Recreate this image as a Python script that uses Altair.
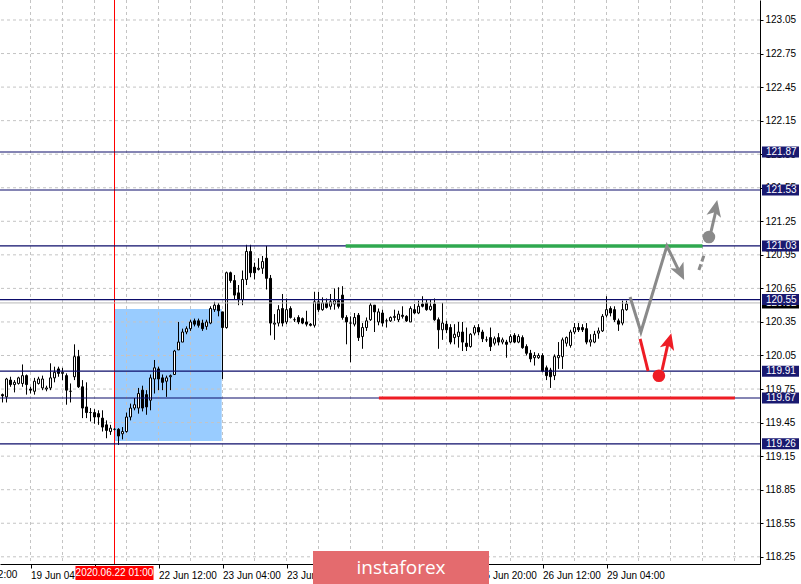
import altair as alt
import pandas as pd

# ---------------- hourly candles (bar index 0 = first bar on screen) ----------------
opens = [
    119.70, 119.68, 119.83, 119.79, 119.80, 119.80, 119.87, 119.75, 119.73, 119.80,
    119.76, 119.75, 119.76, 119.85, 119.93, 119.89, 119.87, 119.73, 119.86, 120.04,
    119.77, 119.59, 119.54, 119.54, 119.53, 119.49, 119.43, 119.37, 119.39, 119.39,
    119.35, 119.37, 119.50, 119.58, 119.58, 119.74, 119.70, 119.65, 119.84, 119.93,
    119.85, 119.82, 119.86, 119.88, 120.10, 120.17, 120.26, 120.29, 120.36, 120.36,
    120.34, 120.31, 120.34, 120.46, 120.50, 120.44, 120.30, 120.79, 120.72, 120.61,
    120.55, 120.73, 120.98, 120.84, 120.82, 120.83, 120.92, 120.74, 120.33, 120.34,
    120.47, 120.35, 120.47, 120.37, 120.39, 120.38, 120.35, 120.33, 120.32, 120.53,
    120.46, 120.52, 120.49, 120.51, 120.54, 120.59, 120.39, 120.34, 120.33, 120.41,
    120.22, 120.30, 120.37, 120.50, 120.35, 120.43, 120.36, 120.36, 120.39, 120.37,
    120.41, 120.40, 120.35, 120.46, 120.43, 120.51, 120.52, 120.46, 120.51, 120.37,
    120.28, 120.33, 120.30, 120.21, 120.22, 120.26, 120.16, 120.13, 120.25, 120.30,
    120.26, 120.19, 120.21, 120.16, 120.21, 120.17, 120.17, 120.17, 120.23, 120.17,
    120.21, 120.13, 120.07, 120.03, 120.03, 120.05, 119.94, 119.92, 119.87, 120.03,
    120.04, 120.16, 120.14, 120.26, 120.30, 120.30, 120.29, 120.17, 120.17, 120.25,
    120.27, 120.41, 120.47, 120.46, 120.36, 120.34, 120.46,
]
highs = [
    119.71, 119.85, 119.86, 119.83, 119.86, 119.97, 119.88, 119.77, 119.85, 119.86,
    119.87, 119.78, 119.98, 119.95, 119.95, 119.94, 119.89, 119.80, 120.15, 120.10,
    119.83, 119.81, 119.58, 119.57, 119.56, 119.56, 119.47, 119.43, 119.40, 119.40,
    119.41, 119.54, 119.62, 119.67, 119.76, 119.78, 119.74, 119.88, 120.01, 119.95,
    119.88, 119.87, 119.88, 120.10, 120.35, 120.29, 120.31, 120.37, 120.38, 120.38,
    120.37, 120.37, 120.49, 120.53, 120.52, 120.44, 120.80, 120.80, 120.77, 120.68,
    120.81, 121.04, 121.04, 120.88, 120.92, 120.94, 121.03, 120.77, 120.42, 120.50,
    120.60, 120.56, 120.49, 120.39, 120.41, 120.39, 120.45, 120.34, 120.62, 120.62,
    120.57, 120.56, 120.60, 120.65, 120.66, 120.67, 120.41, 120.40, 120.43, 120.43,
    120.34, 120.39, 120.52, 120.50, 120.47, 120.46, 120.38, 120.40, 120.46, 120.45,
    120.49, 120.41, 120.49, 120.51, 120.54, 120.58, 120.55, 120.55, 120.56, 120.39,
    120.52, 120.36, 120.33, 120.33, 120.35, 120.35, 120.30, 120.25, 120.32, 120.33,
    120.28, 120.22, 120.30, 120.22, 120.25, 120.21, 120.19, 120.24, 120.25, 120.24,
    120.23, 120.15, 120.10, 120.08, 120.07, 120.07, 119.96, 119.94, 120.06, 120.17,
    120.21, 120.22, 120.28, 120.34, 120.34, 120.33, 120.34, 120.24, 120.27, 120.30,
    120.42, 120.58, 120.49, 120.49, 120.38, 120.54, 120.54,
]
lows = [
    119.63, 119.63, 119.77, 119.72, 119.79, 119.77, 119.70, 119.71, 119.70, 119.79,
    119.74, 119.73, 119.74, 119.81, 119.86, 119.83, 119.61, 119.63, 119.83, 119.76,
    119.49, 119.49, 119.46, 119.44, 119.43, 119.37, 119.31, 119.34, 119.38, 119.25,
    119.30, 119.36, 119.47, 119.56, 119.53, 119.55, 119.52, 119.56, 119.71, 119.74,
    119.74, 119.68, 119.74, 119.88, 120.10, 120.17, 120.24, 120.27, 120.31, 120.30,
    120.27, 120.28, 120.33, 120.44, 120.40, 119.84, 120.29, 120.70, 120.55, 120.50,
    120.50, 120.68, 120.75, 120.73, 120.81, 120.78, 120.64, 120.23, 120.19, 120.31,
    120.31, 120.33, 120.38, 120.35, 120.33, 120.33, 120.31, 120.31, 120.30, 120.44,
    120.45, 120.47, 120.46, 120.46, 120.47, 120.37, 120.15, 119.99, 120.31, 120.18,
    120.11, 120.27, 120.36, 120.26, 120.32, 120.31, 120.30, 120.35, 120.36, 120.35,
    120.38, 120.35, 120.35, 120.42, 120.42, 120.48, 120.45, 120.45, 120.36, 120.11,
    120.19, 120.25, 120.15, 120.15, 120.12, 120.09, 120.09, 120.12, 120.23, 120.23,
    120.17, 120.17, 120.09, 120.14, 120.14, 120.15, 120.03, 120.16, 120.16, 120.16,
    120.11, 120.05, 119.99, 119.96, 120.02, 119.90, 119.83, 119.76, 119.83, 119.93,
    119.93, 120.13, 120.12, 120.24, 120.26, 120.26, 120.15, 120.13, 120.16, 120.20,
    120.26, 120.39, 120.40, 120.35, 120.27, 120.32, 120.45,
]
closes = [
    119.69, 119.84, 119.79, 119.81, 119.85, 119.87, 119.79, 119.74, 119.82, 119.84,
    119.84, 119.76, 119.85, 119.90, 119.89, 119.90, 119.74, 119.73, 120.04, 119.77,
    119.58, 119.54, 119.54, 119.50, 119.50, 119.41, 119.38, 119.40, 119.39, 119.33,
    119.37, 119.50, 119.58, 119.61, 119.71, 119.58, 119.59, 119.85, 119.94, 119.84,
    119.81, 119.85, 119.87, 120.09, 120.17, 120.26, 120.29, 120.35, 120.33, 120.32,
    120.29, 120.35, 120.47, 120.50, 120.45, 120.30, 120.79, 120.72, 120.59, 120.55,
    120.73, 120.98, 120.79, 120.79, 120.83, 120.89, 120.74, 120.34, 120.34, 120.46,
    120.34, 120.46, 120.39, 120.37, 120.35, 120.34, 120.33, 120.32, 120.53, 120.46,
    120.52, 120.48, 120.53, 120.54, 120.49, 120.39, 120.35, 120.34, 120.39, 120.21,
    120.30, 120.36, 120.50, 120.44, 120.44, 120.34, 120.36, 120.39, 120.40, 120.42,
    120.40, 120.36, 120.47, 120.43, 120.49, 120.49, 120.46, 120.49, 120.37, 120.28,
    120.34, 120.28, 120.17, 120.24, 120.26, 120.17, 120.13, 120.24, 120.30, 120.26,
    120.20, 120.19, 120.13, 120.20, 120.17, 120.19, 120.15, 120.22, 120.17, 120.22,
    120.12, 120.07, 120.02, 120.05, 120.05, 119.91, 119.87, 119.86, 120.04, 120.05,
    120.19, 120.21, 120.26, 120.30, 120.28, 120.28, 120.17, 120.19, 120.24, 120.27,
    120.40, 120.46, 120.43, 120.37, 120.33, 120.46, 120.51,
]

# ---------------- axes ----------------
time_tick_bars = [7, 23, 39, 55, 71, 87, 103, 119, 135, 151]
time_tick_texts = ["19 Jun 04:00", "19 Jun 20:00", "22 Jun 12:00", "23 Jun 04:00",
                   "23 Jun 20:00", "24 Jun 12:00", "25 Jun 04:00", "25 Jun 20:00",
                   "26 Jun 12:00", "29 Jun 04:00"]
early_tick_bar = -9
early_tick_text = "18 Jun 12:00"
price_ticks = [118.25, 118.55, 118.85, 119.15, 119.45, 119.75, 120.05, 120.35,
               120.65, 120.95, 121.25, 121.55, 121.85, 122.15, 122.45, 122.75, 123.05]
grid_bars = [7, 15, 23, 31, 39, 47, 55, 63, 71, 79, 87, 95, 103, 111, 119, 127,
             135, 143, 151, 159, 167, 175, 183]

# ---------------- drawn objects ----------------
level_prices = [121.87, 121.53, 121.03, 120.55, 119.91, 119.67, 119.26]
bid_price = 120.52
marker_bar = 28
marker_text = "2020.06.22 01:00"
zone_bars = [28.1, 54.8]
zone_prices = [119.286, 120.466]
green_bars = [85.8, 175.0]
green_price = 121.03
red_bars = [94.1, 183.1]
red_price = 119.67

gray_path_bars = [156.9, 159.6, 166.1, 168.9]
gray_path_prices = [120.573, 120.260, 121.029, 120.823]
gray_dash_bars = [174.1, 175.4]
gray_dash_prices = [120.815, 120.949]
gray_dot_bar, gray_dot_price = 176.6, 121.110
gray_up_bars = [177.1, 178.4]
gray_up_prices = [121.154, 121.351]
red_path_bars = [159.4, 161.4]
red_path_prices = [120.198, 119.911]
red_dot_bar, red_dot_price = 164.1, 119.869
red_up_bars = [164.9, 166.4]
red_up_prices = [119.920, 120.162]
head_bars = [169.4, 178.2, 166.6]
head_prices = [120.800, 121.360, 120.170]
head_angles = [154, 12, 15]
head_colors = ["#8a8a8a", "#8a8a8a", "#ee1c25"]

# ---------------- styling ----------------
FONT = "Liberation Sans"
NAVY = "#0c0c6a"
GRAY = "#8a8a8a"
RED = "#ee1c25"
GRID = "#c4c4c4"
W, H = 760, 564
PX_PER_PRICE = 111.833
BOX_HALF = 5.5 / PX_PER_PRICE

xs = alt.Scale(domain=[-0.625, 189.375], nice=False, zero=False)
ys = alt.Scale(domain=[118.1856, 123.2288], nice=False, zero=False)

label_expr = "[{}][indexof([{}], datum.value)]".format(
    ",".join("'%s'" % t for t in time_tick_texts),
    ",".join(str(b) for b in time_tick_bars))

x_axis = alt.Axis(values=time_tick_bars, labelExpr=label_expr, orient="bottom",
                  grid=False, domainColor="black", tickColor="black", tickSize=4,
                  labelAlign="left", labelBaseline="top", labelPadding=2,
                  labelFlush=False, labelOverlap=False, labelFont=FONT,
                  labelFontSize=10, labelColor="black", title=None)
y_axis = alt.Axis(values=price_ticks, format=".2f", orient="right", grid=False,
                  domainColor="black", tickColor="black", tickSize=3,
                  labelPadding=2, labelFlush=False, labelOverlap=False,
                  labelFont=FONT, labelFontSize=10, labelColor="black", title=None)


def X(field):
    return alt.X(field, type="quantitative", scale=xs, axis=x_axis)


def Y(field):
    return alt.Y(field, type="quantitative", scale=ys, axis=y_axis)


candles = pd.DataFrame({"i": range(len(opens)), "o": opens, "h": highs,
                        "l": lows, "c": closes})
candles["xl"] = candles["i"] - 0.25
candles["xr"] = candles["i"] + 0.25
candles["fill"] = ["#ffffff" if c >= o else "#000000" for o, c in zip(opens, closes)]

# highlighted rally zone
zone = alt.Chart(pd.DataFrame({"x1": [zone_bars[0]], "x2": [zone_bars[1]],
                               "y1": [zone_prices[0]], "y2": [zone_prices[1]]})
                 ).mark_rect(color="#99ccff").encode(
    x=X("x1"), x2="x2", y=Y("y1"), y2="y2")

# dashed grid
hgrid = alt.Chart(pd.DataFrame({"p": price_ticks})).mark_rule(
    color=GRID, strokeDash=[3, 3], strokeWidth=1).encode(y=Y("p"))
vgrid = alt.Chart(pd.DataFrame({"b": grid_bars})).mark_rule(
    color=GRID, strokeDash=[3, 3], strokeWidth=1).encode(x=X("b"))

# vertical time marker
vmark = alt.Chart(pd.DataFrame({"b": [marker_bar]})).mark_rule(
    color="#ff0000", strokeWidth=1).encode(x=X("b"))

# candles
wicks = alt.Chart(candles).mark_rule(color="black", strokeWidth=1).encode(
    x=X("i"), y=Y("l"), y2="h")
bodies = alt.Chart(candles).mark_rect(stroke="black", strokeWidth=1).encode(
    x=X("xl"), x2="xr", y=Y("o"), y2="c",
    fill=alt.Fill("fill:N", scale=None))

# horizontal levels
levels = alt.Chart(pd.DataFrame({"p": level_prices})).mark_rule(
    color=NAVY, strokeWidth=1.1).encode(y=Y("p"))
bid = alt.Chart(pd.DataFrame({"p": [bid_price]})).mark_rule(
    color="#b8b8b8", strokeWidth=1).encode(y=Y("p"))

green = alt.Chart(pd.DataFrame({"x1": [green_bars[0]], "x2": [green_bars[1]],
                                "p": [green_price]})).mark_rule(
    color="#2fa84f", strokeWidth=3.5).encode(x=X("x1"), x2="x2", y=Y("p"))
redline = alt.Chart(pd.DataFrame({"x1": [red_bars[0]], "x2": [red_bars[1]],
                                  "p": [red_price]})).mark_rule(
    color=RED, strokeWidth=3).encode(x=X("x1"), x2="x2", y=Y("p"))


def path(bars, prices, color, dash=None):
    df = pd.DataFrame({"b": bars, "p": prices, "k": range(len(bars))})
    kw = dict(color=color, strokeWidth=3)
    if dash:
        kw["strokeDash"] = dash
    return alt.Chart(df).mark_line(**kw).encode(
        x=X("b"), y=Y("p"), order="k:Q")


gray_path = path(gray_path_bars, gray_path_prices, GRAY)
gray_dash = path(gray_dash_bars, gray_dash_prices, GRAY, [6, 3])
gray_up = path(gray_up_bars, gray_up_prices, GRAY)
red_path = path(red_path_bars, red_path_prices, RED)
red_up = path(red_up_bars, red_up_prices, RED)

dots = alt.Chart(pd.DataFrame({"b": [gray_dot_bar, red_dot_bar],
                               "p": [gray_dot_price, red_dot_price],
                               "col": [GRAY, RED]})).mark_circle(
    size=160, opacity=1).encode(x=X("b"), y=Y("p"),
                                color=alt.Color("col:N", scale=None))

ARROW = "M0,-1L0.8,0.8L0,0.35L-0.8,0.8Z"
heads = alt.Chart(pd.DataFrame({"b": head_bars, "p": head_prices,
                                "a": head_angles, "col": head_colors})).mark_point(
    shape=ARROW, filled=True, size=340, opacity=1, strokeWidth=0).encode(
    x=X("b"), y=Y("p"), angle=alt.Angle("a:Q", scale=None),
    color=alt.Color("col:N", scale=None))

# price tags on the right axis
tags = pd.DataFrame({"p": level_prices})
tags["lo"] = tags["p"] - BOX_HALF
tags["hi"] = tags["p"] + BOX_HALF
tags["t"] = ["%.2f" % v for v in level_prices]
bid_tag = pd.DataFrame({"p": [bid_price], "lo": [bid_price - BOX_HALF],
                        "hi": [bid_price + BOX_HALF], "t": ["%.2f" % bid_price]})

bid_box = alt.Chart(bid_tag).mark_rect(color="black").encode(
    x=alt.value(762), x2=alt.value(799), y=Y("lo"), y2="hi")
bid_txt = alt.Chart(bid_tag).mark_text(
    align="left", baseline="middle", font=FONT, fontSize=10, color="white").encode(
    x=alt.value(766), y=Y("p"), text="t:N")
tag_box = alt.Chart(tags).mark_rect(color="#191970").encode(
    x=alt.value(762), x2=alt.value(799), y=Y("lo"), y2="hi")
tag_txt = alt.Chart(tags).mark_text(
    align="left", baseline="middle", font=FONT, fontSize=10, color="white").encode(
    x=alt.value(766), y=Y("p"), text="t:N")

# leftmost, partly hidden time label
early = alt.Chart(pd.DataFrame({"b": [early_tick_bar], "t": [early_tick_text]})).mark_text(
    align="left", baseline="top", font=FONT, fontSize=10, color="black", dx=-7).encode(
    x=X("b"), y=alt.value(H + 6), text="t:N")

# time marker tag on the bottom axis
mk = pd.DataFrame({"b": [marker_bar], "x1": [marker_bar - 9.75],
                   "x2": [marker_bar + 9.75], "t": [marker_text]})
mk_box = alt.Chart(mk).mark_rect(color="#ff0000").encode(
    x=X("x1"), x2="x2", y=alt.value(H + 2), y2=alt.value(H + 16))
mk_txt = alt.Chart(mk).mark_text(
    align="center", baseline="middle", font=FONT, fontSize=10, color="white").encode(
    x=X("b"), y=alt.value(H + 9), text="t:N")

# watermark
wm = pd.DataFrame({"t": ["instaforex"]})
wm_box = alt.Chart(wm).mark_rect(color="#e46b6e").encode(
    x=alt.value(313), x2=alt.value(489), y=alt.value(551), y2=alt.value(590))
wm_txt = alt.Chart(wm).mark_text(
    align="center", baseline="middle", font="Open Sans", fontSize=19,
    color="white").encode(x=alt.value(401), y=alt.value(568), text="t:N")

chart = alt.layer(
    zone, hgrid, vgrid, vmark, wicks, bodies, bid, levels, green, redline,
    gray_path, gray_dash, gray_up, red_path, red_up, dots, heads,
    bid_box, bid_txt, tag_box, tag_txt, early, mk_box, mk_txt, wm_box, wm_txt,
).properties(
    width=W, height=H,
    padding={"left": 0, "top": 0, "right": 41, "bottom": 20},
    autosize=alt.AutoSizeParams(type="none"),
    background="white",
).configure_view(stroke=None)

chart.save("out.html", embed_options={"renderer": "svg", "actions": False})
